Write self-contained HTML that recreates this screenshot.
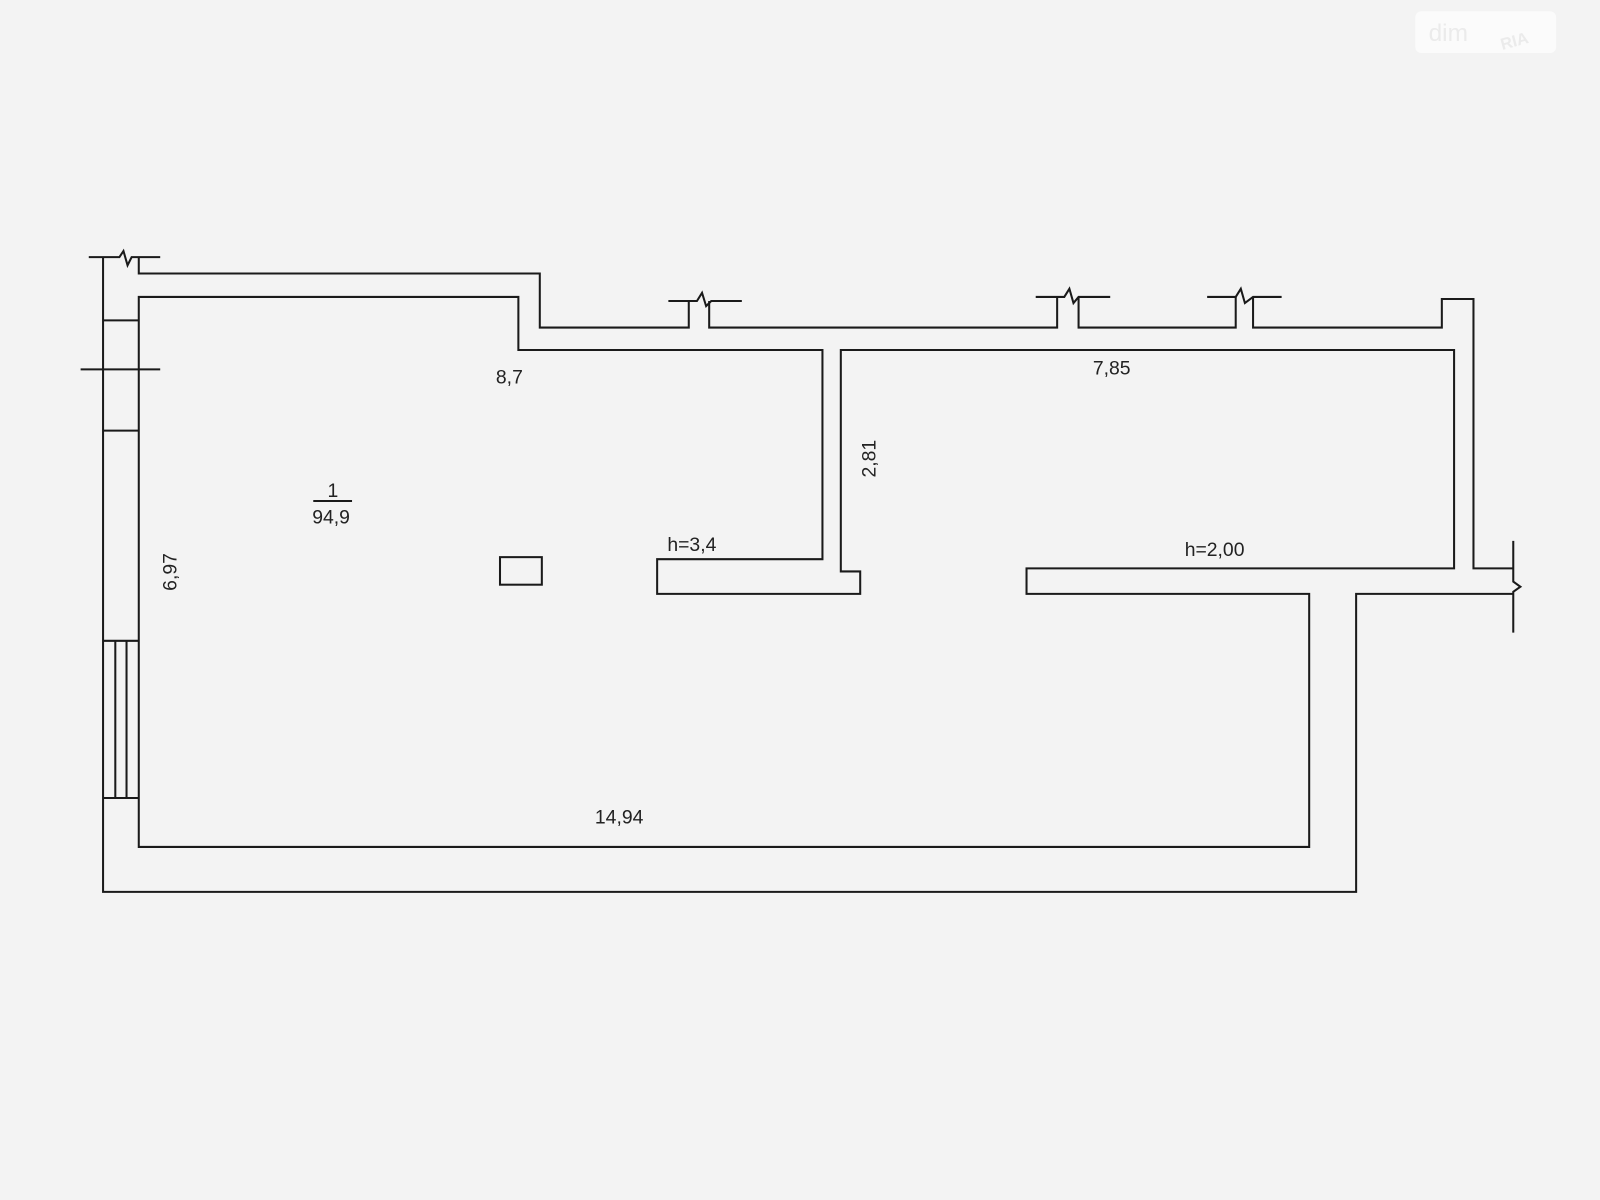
<!DOCTYPE html>
<html><head><meta charset="utf-8"><style>
html,body{margin:0;padding:0;background:#f3f3f3;}
svg{display:block}
text{font-family:"Liberation Sans",sans-serif;fill:#222;}
</style></head><body>
<svg width="1600" height="1200" viewBox="0 0 1568 1176" xmlns="http://www.w3.org/2000/svg">
<rect width="1568" height="1176" fill="#f3f3f3"/>
<rect x="1387" y="11" width="138" height="41" rx="6" fill="#fbfbfb"/>
<text x="1400" y="40" font-size="24" style="fill:#ebebeb">dim</text>
<text x="1470" y="44" font-size="16" font-weight="bold" style="fill:#ebebeb" transform="rotate(-15 1490 38)">RIA</text>
<g fill="none" stroke="#1a1a1a" stroke-width="2">
<!-- top left break -->
<path d="M87 252 H117 L121 246 L125 260 L129 252 H157"/>
<path d="M101 252 V874 H1329 V582 H1483"/>
<path d="M136 252 V268 H529 V321 H675 V295 M695 295 V321 H1036 V291 M1057 291 V321 H1211 V291 M1228 291 V321 H1413 V293 H1444 V557 H1483"/>
<path d="M655 295 H683 L688 287 L692 300 L697 295 H727"/>
<path d="M1015 291 H1043 L1048 283 L1052 297 L1057 291 H1088"/>
<path d="M1183 291 H1211 L1216 283 L1220 297 L1228 291 H1256"/>
<path d="M1483 530 V570 L1490 575 L1483 580 V620"/>
<!-- inner -->
<path d="M136 291 H508 V343 H806 V548 H644 V582 H843 V560 H824 V343 H1425 V557 H1006 V582 H1283 V830 H136 Z"/>
<!-- window left -->
<path d="M101 314 H136 M101 422 H136 M79 362 H157"/>
<path d="M101 628 H136 M101 782 H136 M113 628 V782 M124 628 V782"/>
<rect x="490" y="546" width="41" height="27"/>
<path d="M307 491 H345"/>
</g>
<g font-size="19">
<text x="486" y="376">8,7</text>
<text x="1071" y="367">7,85</text>
<text x="321" y="487">1</text>
<text x="306" y="513">94,9</text>
<text x="654" y="540">h=3,4</text>
<text x="1161" y="545">h=2,00</text>
<text x="583" y="807">14,94</text>
<text transform="translate(858,468) rotate(-90)">2,81</text>
<text transform="translate(173,579) rotate(-90)">6,97</text>
</g>
</svg>
</body></html>
